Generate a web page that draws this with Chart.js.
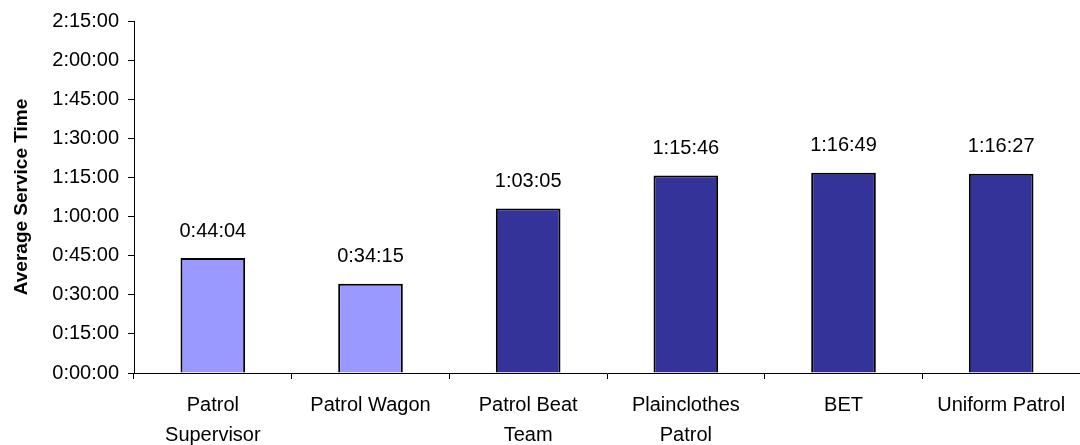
<!DOCTYPE html>
<html>
<head>
<meta charset="utf-8">
<script src="https://cdn.jsdelivr.net/npm/chart.js@4/dist/chart.umd.min.js"></script>
<style>
  html, body { margin: 0; padding: 0; background: #fff; }
  #wrap { width: 1080px; height: 445px; }
</style>
</head>
<body>
<div id="wrap"><canvas id="c"></canvas></div>
<script>
// categories and average service times (seconds)
const categories = [
  ['Patrol', 'Supervisor'],
  'Patrol Wagon',
  ['Patrol Beat', 'Team'],
  ['Plainclothes', 'Patrol'],
  'BET',
  'Uniform Patrol'
];
const serviceTimes = [2644, 2055, 3785, 4546, 4609, 4587]; // 0:44:04 .. 1:16:27
const barColors = ['#9999FF', '#9999FF', '#333399', '#333399', '#333399', '#333399'];
const yMax = 8100;   // 2:15:00
const yStep = 900;   // 15 min

function fmt(sec) {
  const h = Math.floor(sec / 3600);
  const m = Math.floor((sec % 3600) / 60);
  const s = sec % 60;
  return h + ':' + String(m).padStart(2, '0') + ':' + String(s).padStart(2, '0');
}

// value labels above bars
const valueLabels = {
  id: 'valueLabels',
  afterDatasetsDraw(chart) {
    const ctx = chart.ctx;
    const meta = chart.getDatasetMeta(0);
    ctx.save();
    ctx.font = '20px "Liberation Sans", Arial, sans-serif';
    ctx.fillStyle = '#000';
    ctx.textAlign = 'center';
    ctx.textBaseline = 'middle';
    meta.data.forEach((bar, i) => {
      ctx.fillText(fmt(serviceTimes[i]), bar.x, bar.y - 27);
    });
    ctx.restore();
  }
};

Chart.defaults.font.family = '"Liberation Sans", Arial, sans-serif';
Chart.defaults.color = '#000';

new Chart(document.getElementById('c'), {
  type: 'bar',
  data: {
    labels: categories,
    datasets: [{
      data: serviceTimes,
      backgroundColor: barColors,
      borderColor: '#000',
      borderWidth: 2,
      barPercentage: 0.41,
      categoryPercentage: 1.0
    }]
  },
  options: {
    responsive: true,
    maintainAspectRatio: false,
    animation: false,
    layout: { padding: { top: 20, right: 0, left: 0, bottom: 0 } },
    plugins: {
      legend: { display: false },
      tooltip: { enabled: false }
    },
    scales: {
      x: {
        grid: { offset: true, drawOnChartArea: false, drawTicks: true, tickLength: 6, color: '#000' },
        border: { color: '#000', width: 1 },
        ticks: { font: { size: 20, lineHeight: 1.5 }, maxRotation: 0, autoSkip: false, padding: 11 },
        afterFit(scale) { scale.height = 72; }
      },
      y: {
        min: 0,
        max: yMax,
        grid: { drawOnChartArea: false, drawTicks: true, tickLength: 6, color: '#000' },
        border: { color: '#000', width: 1 },
        ticks: { stepSize: yStep, font: { size: 20 }, padding: 9, callback: v => fmt(v) },
        title: { display: true, text: 'Average Service Time', font: { size: 19, weight: 'bold' }, padding: { top: 10, bottom: 0 } },
        afterFit(scale) { scale.width = 134; }
      }
    }
  },
  plugins: [valueLabels]
});
</script>
</body>
</html>
